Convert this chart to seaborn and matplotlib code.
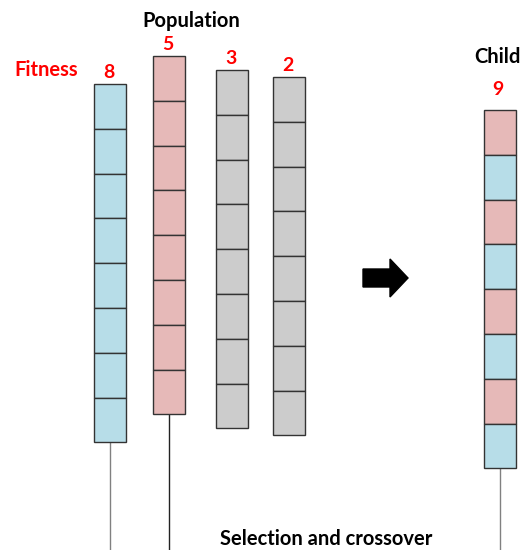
import numpy as np
import matplotlib
matplotlib.use("Agg")
import matplotlib.pyplot as plt
import seaborn as sns

# ---- data ----
fitness = [8, 5, 3, 2]
cells = [["b"] * 8, ["r"] * 8, ["g"] * 8, ["g"] * 8]
child_fitness = 9
child_cells = ["r", "b", "r", "b", "r", "b", "r", "b"]

palette = {"b": "#b7dde8", "r": "#e6b9b8", "g": "#cccccc"}

# ---- layout (pixel coords) ----
x_pop = [110, 169, 232, 289]
top_pop = [84, 56, 70, 77]
x_child = 500
top_child = 110
cell_h = 44.8
cell_w = 32

sns.set_theme(style="white")
plt.rcParams["font.family"] = ["Lato", "DejaVu Sans"]

fig = plt.figure(figsize=(5.28, 5.5), dpi=100)
ax = fig.add_axes([0, 0, 1, 1])
ax.set_xlim(0, 528)
ax.set_ylim(550, 0)
ax.axis("off")


def chromosome(x, top, kinds, tail_color=None):
    n = len(kinds)
    bottoms = top + np.arange(n) * cell_h
    ax.bar([x] * n, [cell_h] * n, bottom=bottoms, width=cell_w,
           color=[palette[k] for k in kinds], edgecolor="#333333",
           linewidth=1.0, zorder=2)
    if tail_color is not None:
        ax.plot([x, x], [top + n * cell_h, 552], color=tail_color,
                lw=1.0, zorder=1)


tails = ["#808080", "#222222", None, None]
for x, t, kinds, f, tc in zip(x_pop, top_pop, cells, fitness, tails):
    chromosome(x, t, kinds, tc)
    ax.text(x - 1, t - 3, str(f), color="red", fontsize=14,
            fontweight="bold", ha="center", va="bottom")

chromosome(x_child, top_child, child_cells, "#808080")
ax.text(x_child - 2, top_child - 12, str(child_fitness), color="red",
        fontsize=14, fontweight="bold", ha="center", va="bottom")

ax.text(191, 21, "Population", fontsize=14.5, fontweight="bold",
        ha="center", va="center", color="black")
ax.text(46, 70, "Fitness", fontsize=14.5, fontweight="bold",
        ha="center", va="center", color="red")
ax.text(497, 57, "Child", fontsize=14.5, fontweight="bold",
        ha="center", va="center", color="black")
ax.text(326, 539, "Selection and crossover", fontsize=14.5, fontweight="bold",
        ha="center", va="center", color="black")

# arrow
ax.fill([363, 390, 390, 408, 390, 390, 363],
        [269, 269, 259, 278, 297, 287, 287], color="black", zorder=3)

fig.savefig("out.png", dpi=100)
